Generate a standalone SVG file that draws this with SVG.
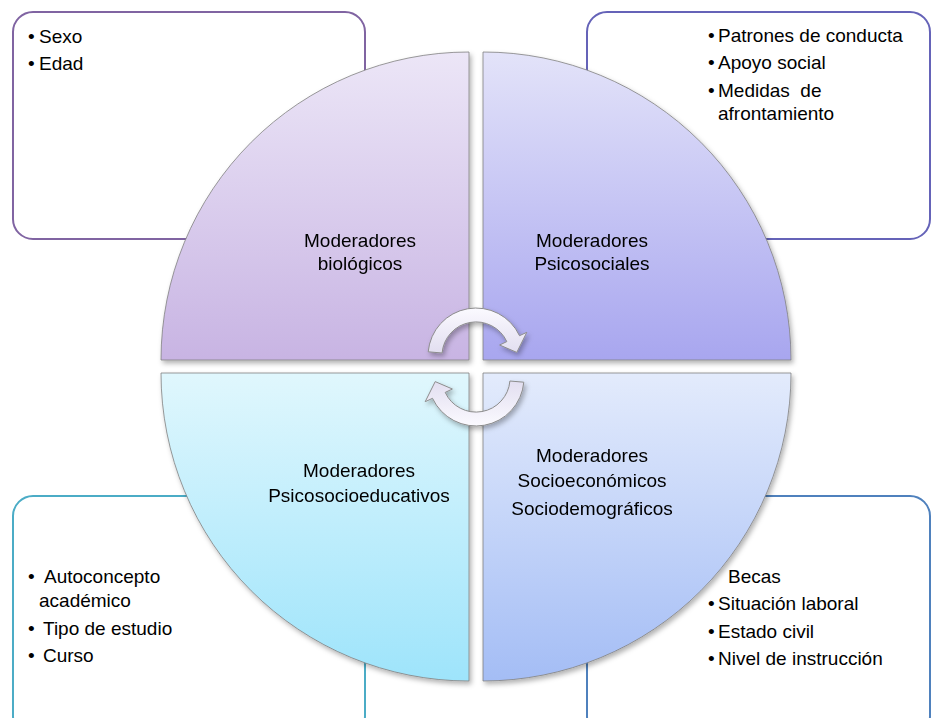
<svg xmlns="http://www.w3.org/2000/svg" width="932" height="718" viewBox="0 0 932 718">
<style>
text{font-family:"Liberation Sans",Arial,sans-serif;font-size:19px;fill:#000}
.c{text-anchor:middle}
.box{fill:#fff;stroke-width:2}
.q{stroke:#808080;stroke-width:0.8}
.arr{fill:url(#ga);stroke:#8c8c8c;stroke-width:1}
</style>
<defs>
<linearGradient id="g1" x1="0" y1="0" x2="0" y2="1"><stop offset="0" stop-color="#ece6f7"/><stop offset="1" stop-color="#c8b4e3"/></linearGradient>
<linearGradient id="g2" x1="0" y1="0" x2="0" y2="1"><stop offset="0" stop-color="#e3e3f9"/><stop offset="1" stop-color="#a8a6ef"/></linearGradient>
<linearGradient id="g3" x1="0" y1="0" x2="0" y2="1"><stop offset="0" stop-color="#e0f7fd"/><stop offset="1" stop-color="#9ee4fb"/></linearGradient>
<linearGradient id="g4" x1="0" y1="0" x2="0" y2="1"><stop offset="0" stop-color="#e3ebfc"/><stop offset="1" stop-color="#a4bdf5"/></linearGradient>
<linearGradient id="ga" x1="0" y1="0" x2="0" y2="1"><stop offset="0" stop-color="#fbfaff"/><stop offset="1" stop-color="#e2def0"/></linearGradient>
<filter id="sh" x="-10%" y="-10%" width="125%" height="125%"><feDropShadow dx="2" dy="3" stdDeviation="2.5" flood-color="#000" flood-opacity="0.3"/></filter>
</defs>

<g id="box-biologicos">
<rect class="box" x="13" y="12" width="352" height="227" rx="20" stroke="#8064a2"/>
<text x="28" y="43">•</text><text x="39" y="43">Sexo</text>
<text x="28" y="70">•</text><text x="39" y="70">Edad</text>
</g>
<g id="box-psicosociales">
<rect class="box" x="587" y="12" width="343" height="227" rx="20" stroke="#6563b8"/>
<text x="708" y="42">•</text><text x="718" y="42">Patrones de conducta</text>
<text x="708" y="69">•</text><text x="718" y="69">Apoyo social</text>
<text x="708" y="97">•</text><text x="718" y="97" xml:space="preserve">Medidas  de</text>
<text x="718" y="120">afrontamiento</text>
</g>
<g id="box-psicosocioeducativos">
<rect class="box" x="13" y="496" width="352" height="240" rx="20" stroke="#4bacc6"/>
<text x="28" y="583">•</text><text x="44" y="583">Autoconcepto</text>
<text x="39" y="607">académico</text>
<text x="28" y="635">•</text><text x="43" y="635">Tipo de estudio</text>
<text x="28" y="662">•</text><text x="43" y="662">Curso</text>
</g>
<g id="box-socioeconomicos">
<rect class="box" x="587" y="496" width="343" height="240" rx="20" stroke="#4f81bd"/>
<text x="728" y="583">Becas</text>
<text x="708" y="610">•</text><text x="718" y="610">Situación laboral</text>
<text x="708" y="638">•</text><text x="718" y="638">Estado civil</text>
<text x="708" y="665">•</text><text x="718" y="665">Nivel de instrucción</text>
</g>

<g id="q-biologicos" filter="url(#sh)">
<path class="q" fill="url(#g1)" d="M469 360 L161 360 A308 308 0 0 1 469 52 Z"/>
<text class="c" x="360" y="247">Moderadores</text>
<text class="c" x="360" y="270">biológicos</text>
</g>
<g id="q-psicosociales" filter="url(#sh)">
<path class="q" fill="url(#g2)" d="M483 360 L483 52 A308 308 0 0 1 791 360 Z"/>
<text class="c" x="592" y="247">Moderadores</text>
<text class="c" x="592" y="270">Psicosociales</text>
</g>
<g id="q-psicosocioeducativos" filter="url(#sh)">
<path class="q" fill="url(#g3)" d="M469 373 L469 681 A308 308 0 0 1 161 373 Z"/>
<text class="c" x="359" y="477">Moderadores</text>
<text class="c" x="359" y="502">Psicosocioeducativos</text>
</g>
<g id="q-socioeconomicos" filter="url(#sh)">
<path class="q" fill="url(#g4)" d="M483 373 L791 373 A308 308 0 0 1 483 681 Z"/>
<text class="c" x="592" y="462">Moderadores</text>
<text class="c" x="592" y="487">Socioeconómicos</text>
<text class="c" x="592" y="515">Sociodemográficos</text>
</g>

<g id="connectors" filter="url(#sh)">
<path id="arrow-top" class="arr" d="M428.2 351.8 A48 48 0 0 1 519.5 335.7 L526.8 332.3 L516.8 352.4 L499.6 345 L506.8 341.6 A34 34 0 0 0 442.1 353 Z"/>
<path id="arrow-bottom" class="arr" transform="rotate(180 476 367)" d="M428.2 351.8 A48 48 0 0 1 519.5 335.7 L526.8 332.3 L516.8 352.4 L499.6 345 L506.8 341.6 A34 34 0 0 0 442.1 353 Z"/>
</g>
</svg>
